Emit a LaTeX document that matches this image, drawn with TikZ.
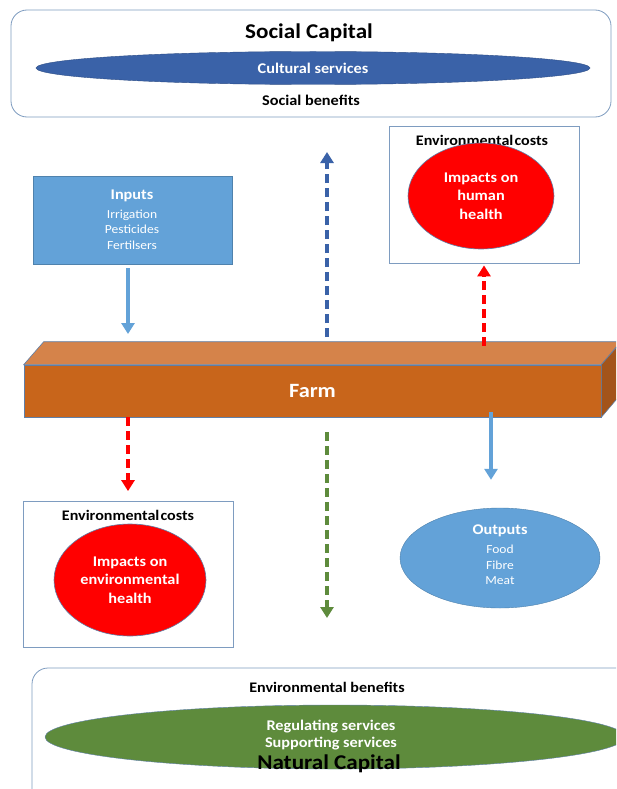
\documentclass[tikz,border=0pt]{standalone}
\usepackage{fontspec}
\setmainfont{Carlito}[FakeStretch=1.1]
\usetikzlibrary{arrows.meta,shapes.geometric,calc}
\definecolor{darkblue}{HTML}{3A62A8}
\definecolor{lightblue}{HTML}{63A2D8}
\definecolor{farmfront}{HTML}{C8651B}
\definecolor{farmtop}{HTML}{D5834A}
\definecolor{farmside}{HTML}{A3541A}
\definecolor{framecol}{HTML}{7E9CC0}
\definecolor{natgreen}{HTML}{5E8B3C}
\definecolor{alertred}{HTML}{FF0000}
\definecolor{edgecol}{HTML}{5F7FA8}
\begin{document}
\begin{tikzpicture}[x=1pt,y=-1pt,
  capbox/.style={draw=framecol, line width=0.8pt, rounded corners=16pt},
  costbox/.style={draw=framecol, line width=0.8pt},
  bigfont/.style={font=\bfseries\fontsize{21}{24}\selectfont},
  midfont/.style={font=\bfseries\fontsize{14.8}{17}\selectfont},
  blackbold/.style={font=\bfseries\fontsize{14.6}{17}\selectfont, text=black},
  whitetext/.style={text=white, align=center},
  redell/.style={ellipse, fill=alertred, draw=edgecol, line width=0.6pt, text=white, align=center, font=\bfseries\fontsize{14.8}{18.5}\selectfont, inner sep=0pt},
  solidarrow/.style={draw=lightblue, line width=3.2pt, -{Triangle[width=13pt,length=11pt]}},
  dasharrow/.style={line width=3.2pt, dash pattern=on 9pt off 5pt, -{Triangle[width=13pt,length=11pt]}},
]
\useasboundingbox (0,0) rectangle (616,789);
\clip (0,0) rectangle (616,789);
\fill[white] (0,0) rectangle (616,789);

% Social capital
\draw[capbox] (11,10) rectangle (611,117);
\node[bigfont] (soccap) at (309,33) {Social Capital};
\node[ellipse, fill=darkblue, draw=darkblue!80!black, line width=0.4pt, minimum width=554pt, minimum height=33pt, inner sep=0pt, text=white, midfont] (cultural) at (313,68) {Cultural services};
\node[midfont] (socben) at (311,100) {Social benefits};

% Inputs
\node[rectangle, fill=lightblue, draw=lightblue!80!black, line width=0.4pt, minimum width=199pt, minimum height=88pt, inner sep=0pt] (inputs) at (132.5,220) {};
\node[whitetext, midfont] (inputsT) at (132,196) {Inputs};
\node[whitetext, font=\fontsize{12.3}{15.5}\selectfont] (inputsL) at (132,229.5) {Irrigation\\Pesticides\\Fertilsers};

% Top environmental costs
\node[costbox, minimum width=190pt, minimum height=137pt, inner sep=0pt] (envtop) at (484,194.5) {};
\node[blackbold] (envtopT) at (482,140) {Environmental\hspace{0.08em}costs};
\node[redell, minimum width=146pt, minimum height=106pt] (humanh) at (481,196) {Impacts on\\human\\health};

% Farm
\node[rectangle, fill=farmfront, draw=edgecol, line width=0.6pt, minimum width=577pt, minimum height=52pt, inner sep=0pt, text=white, font=\bfseries\fontsize{20.3}{23}\selectfont] (farm) at (312.5,391) {Farm};
\filldraw[fill=farmtop, draw=edgecol, line width=0.6pt] (farm.north west) -- ++(20,-23) -- ++(577,0) -- (farm.north east) -- cycle;
\filldraw[fill=farmside, draw=edgecol, line width=0.6pt] (farm.north east) -- ++(20,-23) -- ++(0,52) -- (farm.south east) -- cycle;

% Bottom environmental costs
\node[costbox, minimum width=210pt, minimum height=146pt, inner sep=0pt] (envbot) at (128.5,574.5) {};
\node[blackbold] (envbotT) at (128,515) {Environmental\hspace{0.08em}costs};
\node[redell, minimum width=152pt, minimum height=112pt] (envh) at (130,580) {Impacts on\\environmental\\health};

% Outputs
\node[ellipse, fill=lightblue, draw=lightblue!80!black, line width=0.4pt, minimum width=200pt, minimum height=100pt, inner sep=0pt] (outputs) at (500,558) {};
\node[whitetext, midfont] (outputsT) at (500,531) {Outputs};
\node[whitetext, font=\fontsize{12.3}{15.5}\selectfont] (outputsL) at (500,565) {Food\\Fibre\\Meat};

% Natural capital
\draw[capbox] (32,668) rectangle (640,810);
\node[blackbold] (envben) at (327,687) {Environmental benefits};
\node[ellipse, fill=natgreen, draw=edgecol, line width=0.4pt, minimum width=580pt, minimum height=64pt, inner sep=0pt] (natell) at (335,737) {};
\node[whitetext, font=\bfseries\fontsize{14.8}{17}\selectfont] (services) at (331,735.5) {Regulating services\\Supporting services};
\node[bigfont] (natcap) at (329,764) {Natural Capital};

% Arrows
\coordinate (inEnd) at (128,334);
\draw[solidarrow] (inputs.south -| inEnd) ++(0,4) -- (inEnd);
\coordinate (blueStart) at (327,337);
\coordinate (blueEnd) at (327,152);
\draw[dasharrow, draw=darkblue] (blueStart) -- (blueEnd);
\coordinate (redUpStart) at (484,346);
\draw[dasharrow, draw=alertred] (redUpStart) -- ($(envtop.south -| redUpStart)+(0,2)$);
\coordinate (redDnStart) at (128,417);
\draw[dasharrow, draw=alertred] (redDnStart) -- ($(envbot.north -| redDnStart)+(0,-10)$);
\coordinate (greenStart) at (327,432);
\coordinate (greenEnd) at (327,618);
\draw[dasharrow, draw=natgreen] (greenStart) -- (greenEnd);
\coordinate (outStart) at (491,412);
\draw[solidarrow] (outStart) -- ($(outputs.north -| outStart)+(0,-28)$);
\end{tikzpicture}
\end{document}
